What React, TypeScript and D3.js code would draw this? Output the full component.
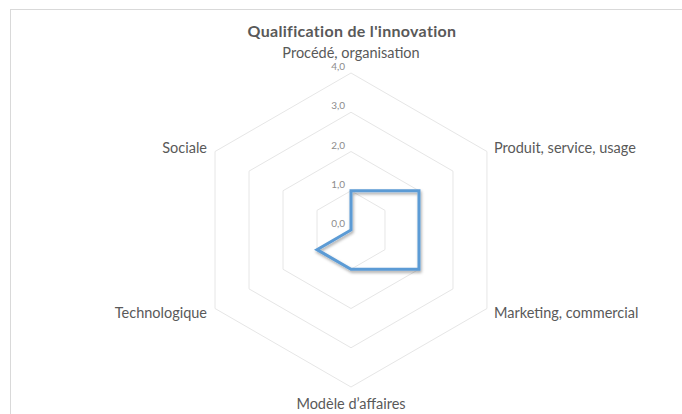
import React from 'react';
import * as d3 from 'd3';

const categories = [
  'Procédé, organisation',
  'Produit, service, usage',
  'Marketing, commercial',
  'Modèle d’affaires',
  'Technologique',
  'Sociale',
];
const values = [1, 2, 2, 1, 1, 0];
const ticks = [0, 1, 2, 3, 4];
const tickLabels = ['0,0', '1,0', '2,0', '3,0', '4,0'];
const title = "Qualification de l'innovation";

const W = 682;
const H = 414;
const cx = 351;
const cy = 230;
const radius = 157;
const font = 'Lato, "Open Sans", sans-serif';

export default function App() {
  const r = d3.scaleLinear().domain([0, 4]).range([0, radius]);
  const angle = d3
    .scaleLinear()
    .domain([0, categories.length])
    .range([0, 2 * Math.PI]);

  const radial = d3
    .lineRadial<number>()
    .angle((_, i) => angle(i))
    .radius((d) => r(d))
    .curve(d3.curveLinearClosed);

  const rings = ticks.filter((t) => t > 0);

  const labelPos = (i: number) => {
    const a = angle(i);
    const s = Math.sin(a);
    const c = Math.cos(a);
    const x = cx + s * radius;
    const y = cy - c * radius;
    if (Math.abs(s) < 0.01) {
      return { x, y: c > 0 ? y - 21 : y + 16, anchor: 'middle' };
    }
    return {
      x: x + (s > 0 ? 7 : -8),
      y: y + (c > 0 ? -4 : 4),
      anchor: s > 0 ? 'start' : 'end',
    };
  };

  return (
    <svg
      width={W}
      height={H}
      style={{ position: 'absolute', left: 0, top: 0, background: '#fff' }}
    >
      <defs>
        <filter id="shadow" x="-20%" y="-20%" width="140%" height="140%">
          <feDropShadow dx="1" dy="2" stdDeviation="1.5" floodColor="#000" floodOpacity="0.35" />
        </filter>
      </defs>
      <rect x={10.5} y={9.5} width={W} height={H} fill="#fff" stroke="#d9d9d9" />

      <text
        x={cx + 1}
        y={30}
        textAnchor="middle"
        dominantBaseline="central"
        fontFamily={font}
        fontWeight="bold"
        fontSize={16}
        letterSpacing={0.3}
        fill="#595959"
      >
        {title}
      </text>

      <g transform={`translate(${cx},${cy})`}>
        {rings.map((t) => (
          <path
            key={t}
            d={radial(categories.map(() => t)) || ''}
            fill="none"
            stroke="#e6e6e6"
            strokeWidth={1}
          />
        ))}
        <path
          d={radial(values) || ''}
          fill="none"
          stroke="#5b9bd5"
          strokeWidth={3}
          strokeLinejoin="miter"
          filter="url(#shadow)"
        />
      </g>

      {ticks.map((t, i) => (
        <text
          key={t}
          x={cx - 6}
          y={cy - r(t) - 7}
          textAnchor="end"
          dominantBaseline="central"
          fontFamily={font}
          fontSize={10}
          fill="#8c8c8c"
        >
          {tickLabels[i]}
        </text>
      ))}

      {categories.map((c, i) => {
        const p = labelPos(i);
        return (
          <text
            key={c}
            x={p.x}
            y={p.y}
            textAnchor={p.anchor as any}
            dominantBaseline="central"
            fontFamily={font}
            fontSize={14.5}
            fill="#595959"
          >
            {c}
          </text>
        );
      })}
    </svg>
  );
}
